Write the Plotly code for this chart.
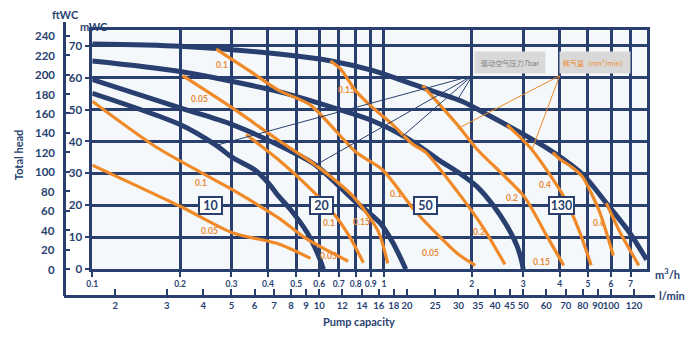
import math
import plotly.graph_objects as go

W, H = 700, 342
NAVY = "#283f6f"
ORANGE = "#f08a28"
LABEL_ORANGE = "#ee8832"
PLOT_FILL = "#f4f8fb"
FONT = "Lato"

# ---- pump curves at 7 bar drive air: capacity (m3/h) vs total head (mWC)
q_10 = [0.100, 0.200, 0.266, 0.302, 0.363, 0.403, 0.436, 0.478, 0.545, 0.596, 0.620]
h_10 = [55.1, 45.3, 38.8, 35.0, 30.9, 26.8, 22.8, 18.7, 11.5, 4.3, 0.0]
q_20 = [0.100, 0.200, 0.302, 0.436, 0.583, 0.784, 0.969, 1.073, 1.188]
h_20 = [59.4, 50.5, 45.3, 38.8, 32.6, 21.8, 14.5, 8.3, 0.0]
q_50 = [0.100, 0.200, 0.436, 0.707, 0.917, 1.191, 1.393, 1.547, 1.785, 2.088, 2.380, 2.640, 2.855, 2.970, 3.000]
h_50 = [65.2, 61.9, 55.6, 49.9, 46.4, 41.2, 37.1, 34.1, 30.5, 25.8, 19.7, 13.5, 7.4, 2.2, 0.0]
q_130 = [0.100, 0.200, 0.436, 0.653, 0.918, 1.191, 1.547, 1.857, 2.317, 3.010, 3.810, 4.820, 5.780, 6.940, 7.950]
h_130 = [70.5, 69.8, 67.4, 65.3, 62.2, 58.7, 55.1, 52.5, 47.9, 42.2, 36.6, 29.5, 20.7, 11.5, 3.0]
pump_curves = [(q_10, h_10), (q_20, h_20), (q_50, h_50), (q_130, h_130)]

# ---- air consumption lines (nm3/min)
air_a_q = [0.100, 0.200, 0.302, 0.436, 0.560]
air_a_h = [32.6, 19.7, 11.4, 7.9, 3.4]
air_b_q = [0.100, 0.166, 0.302, 0.436, 0.543, 0.754]
air_b_h = [52.6, 38.2, 24.9, 16.0, 9.5, 2.5]
air_c_q = [0.337, 0.436, 0.551, 0.671, 0.770, 0.850]
air_c_h = [42.2, 34.2, 25.8, 17.5, 9.5, 2.0]
air_d_q = [0.204, 0.302, 0.436, 0.583, 0.784, 0.954, 1.030]
air_d_h = [60.6, 50.5, 40.3, 32.6, 22.8, 12.0, 1.8]
air_e_q = [0.266, 0.345, 0.436, 0.560, 0.803, 0.992, 1.285, 1.785, 2.056]
air_e_h = [68.9, 62.2, 56.0, 51.4, 36.6, 31.0, 18.0, 4.9, 1.2]
air_f_q = [0.655, 0.708, 0.803, 0.917, 1.073, 1.255, 1.390, 1.785, 2.172, 2.598]
air_f_h = [65.2, 62.8, 55.7, 50.5, 45.2, 39.1, 36.6, 24.3, 13.5, 1.5]
air_g_q = [1.357, 1.785, 2.088, 3.020, 3.610, 4.130]
air_g_h = [57.5, 45.2, 37.5, 22.8, 10.5, 1.2]
air_h_q = [2.640, 3.210, 4.130, 4.670, 5.130]
air_h_h = [45.2, 37.5, 22.8, 12.0, 1.2]
air_i_q = [3.790, 4.000, 4.400, 4.790, 5.470, 6.110]
air_i_h = [36.6, 34.5, 32.0, 28.9, 18.2, 4.3]
air_j_q = [5.780, 6.490, 7.470]
air_j_h = [20.7, 11.0, 1.2]
air_lines = [(air_a_q, air_a_h), (air_b_q, air_b_h), (air_c_q, air_c_h), (air_d_q, air_d_h),
             (air_e_q, air_e_h), (air_f_q, air_f_h), (air_g_q, air_g_h), (air_h_q, air_h_h),
             (air_i_q, air_i_h), (air_j_q, air_j_h)]

# ---- consumption value labels
label_text = ["0.1", "0.05", "0.15", "0.1", "0.05", "0.1", "0.15", "0.05",
              "0.1", "0.05", "0.2", "0.2", "0.4", "0.15", "0.6"]
label_q = [0.279, 0.233, 0.743, 0.235, 0.252, 0.650, 0.835, 0.645,
           1.098, 1.445, 2.12, 2.75, 3.56, 3.47, 5.47]
label_h = [64.0, 53.2, 56.0, 27.1, 12.0, 14.5, 14.8, 4.0,
           23.7, 5.2, 11.7, 22.2, 26.5, 2.2, 14.5]

# ---- model size boxes
box_text = ["10", "20", "50", "130"]
box_q = [0.254, 0.611, 1.39, 4.06]
box_h = [20.0, 20.0, 20.0, 20.0]

# ---- leader lines of the two legend notes
pressure_note_q, pressure_note_h = 2.008, 60.6
pressure_tip_q = [0.266, 0.583, 1.142, 1.799]
pressure_tip_h = [38.8, 32.6, 41.2, 53.5]
air_note_q, air_note_h = 4.00, 60.6
air_tip_q = [1.785, 3.21]
air_tip_h = [44.0, 37.2]

# ---- axes
m3h_ticks = [0.1, 0.2, 0.3, 0.4, 0.5, 0.6, 0.7, 0.8, 0.9, 1, 2, 3, 4, 5, 6, 7]
m3h_text = ["0.1", "0.2", "0.3", "0.4", "0.5", "0.6", "0.7", "0.8", "0.9", "1", "2", "3", "4", "5", "6", "7"]
lmin_ticks = [2, 3, 4, 5, 6, 7, 8, 9, 10, 12, 14, 16, 18, 20, 25, 30, 35, 40, 45, 50, 60, 70, 80, 90, 100, 120]
mwc_ticks = [0, 10, 20, 30, 40, 50, 60, 70]
ftwc_ticks = [0, 20, 40, 60, 80, 100, 120, 140, 160, 180, 200, 220, 240]

# pixel frame of the chart
PX_L, PX_R, PX_T, PX_B = 87, 647, 31, 274
PX_FT_X, PX_LMIN_Y, PX_FT_TOP, PX_LMIN_R = 58, 301, 22, 655
px_per_decade = (PX_R - PX_L) / (math.log10(8) + 1)
px_per_m = (PX_B - PX_T) / 74.77
M_PER_FT = 0.3048
LMIN_PER_M3H = 1000 / 60

fig = go.Figure()

for qs, hs in pump_curves:
    fig.add_trace(go.Scatter(x=qs, y=hs, mode="lines",
                             line=dict(color=NAVY, width=5, shape="spline", smoothing=0.8),
                             hoverinfo="skip", showlegend=False))

for qs, hs in air_lines:
    fig.add_trace(go.Scatter(x=qs, y=hs, mode="lines",
                             line=dict(color=ORANGE, width=3.2, shape="spline", smoothing=0.7),
                             hoverinfo="skip", showlegend=False))

for tq, th in zip(pressure_tip_q, pressure_tip_h):
    fig.add_trace(go.Scatter(x=[pressure_note_q, tq], y=[pressure_note_h, th], mode="lines",
                             line=dict(color=NAVY, width=1), hoverinfo="skip", showlegend=False))
for tq, th in zip(air_tip_q, air_tip_h):
    fig.add_trace(go.Scatter(x=[air_note_q, tq], y=[air_note_h, th], mode="lines",
                             line=dict(color=ORANGE, width=1), hoverinfo="skip", showlegend=False))

# invisible anchors on hidden partner axes so the ftWC and l/min scales get drawn
fig.add_trace(go.Scatter(x=[1], y=[0], xaxis="x3", yaxis="y2", mode="markers",
                         marker=dict(opacity=0), hoverinfo="skip", showlegend=False))
fig.add_trace(go.Scatter(x=[10], y=[10], xaxis="x2", yaxis="y3", mode="markers",
                         marker=dict(opacity=0), hoverinfo="skip", showlegend=False))

tick_font = dict(family=FONT, color=NAVY, weight="bold")

y_dom = [(H - PX_B) / H, (H - PX_T) / H]
x_dom = [PX_L / W, PX_R / W]
ft_dom = [(H - PX_LMIN_Y) / H, (H - PX_FT_TOP) / H]
lmin_dom = [PX_FT_X / W, PX_LMIN_R / W]
ft_lo = -(PX_LMIN_Y - PX_B) / (px_per_m * M_PER_FT)
ft_hi = (PX_B - PX_FT_TOP) / (px_per_m * M_PER_FT)
lmin_lo = math.log10(0.1 * LMIN_PER_M3H) - (PX_L - PX_FT_X) / px_per_decade
lmin_hi = math.log10(0.1 * LMIN_PER_M3H) + (PX_LMIN_R - PX_L) / px_per_decade

fig.update_layout(
    width=W, height=H,
    margin=dict(l=0, r=0, t=0, b=0),
    paper_bgcolor="white",
    plot_bgcolor="rgba(0,0,0,0)",
    font=dict(family=FONT, color=NAVY),
    xaxis=dict(type="log", range=[-1, math.log10(8)], domain=x_dom, anchor="y",
               tickvals=m3h_ticks, ticktext=m3h_text, ticks="outside", ticklen=5, tickwidth=2,
               tickcolor=NAVY, tickfont=dict(size=8.5, **tick_font), tickangle=0,
               showgrid=True, gridcolor=NAVY, gridwidth=2.6,
               showline=True, linecolor=NAVY, linewidth=2.5, mirror=True, zeroline=False),
    yaxis=dict(range=[0, 74.77], domain=y_dom, anchor="x",
               tickvals=mwc_ticks, ticks="outside", ticklen=5, tickwidth=2, tickcolor=NAVY,
               tickfont=dict(size=11.5, **tick_font),
               showgrid=True, gridcolor=NAVY, gridwidth=2.6,
               showline=True, linecolor=NAVY, linewidth=2.5, mirror=True, zeroline=False),
    yaxis2=dict(anchor="free", position=PX_FT_X / W, side="left",
                domain=ft_dom, range=[ft_lo, ft_hi],
                tickvals=ftwc_ticks, showticklabels=False,
                ticks="inside", ticklen=5, tickwidth=2, tickcolor=NAVY,
                showgrid=False, zeroline=False, showline=True, linecolor=NAVY, linewidth=2.5),
    xaxis3=dict(visible=False, domain=x_dom, anchor="y2", range=[-1, math.log10(8)], type="log"),
    xaxis2=dict(type="log", anchor="free", position=(H - PX_LMIN_Y) / H, side="bottom",
                domain=lmin_dom, range=[lmin_lo, lmin_hi],
                tickvals=lmin_ticks, ticktext=[str(v) for v in lmin_ticks], tickangle=0,
                ticks="inside", ticklen=6, tickwidth=2, tickcolor=NAVY,
                tickfont=dict(size=9.5, **tick_font),
                showgrid=False, zeroline=False, showline=True, linecolor=NAVY, linewidth=2.5),
    yaxis3=dict(visible=False, domain=y_dom, anchor="x2", range=[0, 74.77]),
    shapes=[dict(type="rect", xref="x domain", yref="y domain", x0=0, x1=1, y0=0, y1=1,
                 fillcolor=PLOT_FILL, line=dict(width=0), layer="below")],
)

ann = []
# ftWC scale numbers, placed on the ftWC axis scale
for v in ftwc_ticks:
    ann.append(dict(x=51 / W, xref="paper", y=v, yref="y2", text=str(v), showarrow=False,
                    xanchor="right", yanchor="middle", font=dict(size=11.5, **tick_font)))
for t, q, h in zip(label_text, label_q, label_h):
    ann.append(dict(x=math.log10(q), y=h, xref="x", yref="y", text=t, showarrow=False,
                    xanchor="center", yanchor="middle",
                    font=dict(family=FONT, size=8.5, color=LABEL_ORANGE, weight="bold")))
for t, q, h in zip(box_text, box_q, box_h):
    ann.append(dict(x=math.log10(q), y=h, xref="x", yref="y", text=t, showarrow=False,
                    xanchor="center", yanchor="middle",
                    width=19 if len(t) < 3 else 21, height=13, borderpad=1,
                    bgcolor="white", bordercolor=NAVY, borderwidth=2,
                    font=dict(family=FONT, size=12.5, color=NAVY, weight="bold")))


def note(px, py, text, **kw):
    d = dict(x=px / W, y=1 - py / H, xref="paper", yref="paper", text=text, showarrow=False,
             xanchor="center", yanchor="middle")
    d.update(kw)
    ann.append(d)


axis_title = dict(family=FONT, size=11, color=NAVY, weight="bold")
note(60, 15, "ftWC", font=axis_title)
note(89, 27, "mWC", font=axis_title)
note(12, 158, "Total head", font=axis_title, textangle=-90)
note(356, 327, "Pump capacity", font=axis_title)
note(667, 278, "m<sup>3</sup>/h", font=axis_title)
note(672, 301, "l/min", font=axis_title)
note(508, 64, "驱动空气压力7bar", bgcolor="#d9d9d9", width=68, height=19,
     font=dict(family="Noto Sans CJK SC", size=7.2, color="#808080"))
note(594, 64, "耗气量（nm³/min）", bgcolor="#d9d9d9", width=68, height=19,
     font=dict(family="Noto Sans CJK SC", size=7, color=ORANGE))

fig.update_layout(annotations=ann)
fig.write_html("out.html")
